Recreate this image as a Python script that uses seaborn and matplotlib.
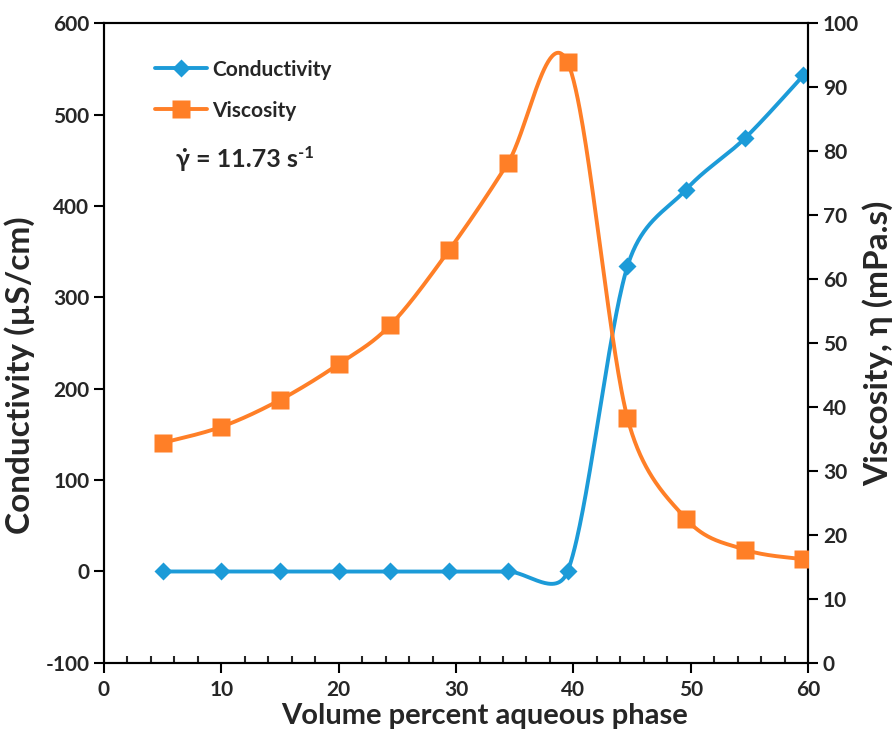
import numpy as np
import pandas as pd
import matplotlib
matplotlib.use("Agg")
import matplotlib.pyplot as plt
import seaborn as sns
from matplotlib.lines import Line2D
from matplotlib.ticker import MultipleLocator

# data
volume_pct = [5, 10, 15, 20, 24.4, 29.4, 34.4, 39.5, 44.6, 49.6, 54.6, 59.6]
conductivity = [0, 0, 0, 0, 0, 0, 0, 0, 334, 418, 474, 543]
viscosity = [34.4, 36.9, 41.1, 46.7, 52.8, 64.5, 78.1, 93.9, 38.3, 22.5, 17.7, 16.2]

blue = "#1c9bd8"
orange = "#ff7f27"

sns.set_style("ticks")
plt.rcParams["font.family"] = ["Lato", "DejaVu Sans"]
plt.rcParams["font.weight"] = "bold"
plt.rcParams["axes.unicode_minus"] = False


def excel_smooth(ax, x, y, n=60):
    # excel-like smoothed line: bezier segments, control offset = min(chord/6, seg/2) in screen space
    p = ax.transData.transform(np.column_stack([x, y]).astype(float))
    p = np.vstack([p[0], p, p[-1]])
    out = []
    for i in range(1, len(p) - 2):
        p0, p1, p2, p3 = p[i - 1], p[i], p[i + 1], p[i + 2]
        seg = np.linalg.norm(p2 - p1)
        ctrl = []
        for a, b in ((p0, p2), (p1, p3)):
            d = b - a
            L = np.linalg.norm(d)
            ctrl.append(d / L * min(L / 6, seg / 2) if L > 0 else d * 0)
        c1 = p1 + ctrl[0]
        c2 = p2 - ctrl[1]
        t = np.linspace(0, 1, n)[:, None]
        s = (1 - t) ** 3 * p1 + 3 * (1 - t) ** 2 * t * c1 + 3 * (1 - t) * t ** 2 * c2 + t ** 3 * p2
        out.append(s if i == 1 else s[1:])
    s = ax.transData.inverted().transform(np.vstack(out))
    return pd.DataFrame({"x": s[:, 0], "y": s[:, 1]})


df = pd.DataFrame({"vol": volume_pct, "cond": conductivity, "visc": viscosity})

fig = plt.figure(figsize=(8.96, 7.49), dpi=100)
ax = fig.add_axes([0.116, 0.115, 0.786, 0.854])
ax2 = ax.twinx()

ax.set_xlim(0, 60)
ax.set_ylim(-100, 600)
ax2.set_ylim(0, 100)

lw = 2.8
sns.lineplot(data=excel_smooth(ax, df["vol"], df["cond"]), x="x", y="y", sort=False,
             estimator=None, color=blue, lw=lw, ax=ax, legend=False)
ax.plot(df["vol"], df["cond"], ls="none", marker="D", ms=9.5, color=blue, mec="none", zorder=5)

sns.lineplot(data=excel_smooth(ax2, df["vol"], df["visc"]), x="x", y="y", sort=False,
             estimator=None, color=orange, lw=lw, ax=ax2, legend=False)
ax2.plot(df["vol"], df["visc"], ls="none", marker="s", ms=13.5, color=orange, mec="none", zorder=5)

ax.set_xlim(0, 60)
ax.set_ylim(-100, 600)
ax2.set_ylim(0, 100)
ax.xaxis.set_major_locator(MultipleLocator(10))
ax.xaxis.set_minor_locator(MultipleLocator(2))
ax.yaxis.set_major_locator(MultipleLocator(100))
ax2.yaxis.set_major_locator(MultipleLocator(10))

for a in (ax, ax2):
    for sp in a.spines.values():
        sp.set_linewidth(1.5)
        sp.set_color("black")
    a.tick_params(axis="both", which="major", length=7, width=1.5, labelsize=15, color="black")
ax.tick_params(axis="x", which="minor", direction="in", length=5, width=1.5)
ax.tick_params(axis="y", which="minor", left=False)
ax.tick_params(axis="x", pad=5)

ax.set_xlabel("Volume percent aqueous phase", fontsize=21, fontweight="bold")
ax.set_ylabel("Conductivity (µS/cm)", fontsize=24, fontweight="bold")
ax2.set_ylabel("Viscosity, η (mPa.s)", fontsize=24, fontweight="bold")
ax.xaxis.set_label_coords(0.54, -0.062)
ax.yaxis.set_label_coords(-0.098, 0.45)
ax2.yaxis.set_label_coords(1.077, 0.5)

handles = [
    Line2D([], [], color=blue, lw=lw, marker="D", ms=9.5, mec="none"),
    Line2D([], [], color=orange, lw=lw, marker="s", ms=13.5, mec="none"),
]
leg = ax.legend(handles, ["Conductivity", "Viscosity"], loc="upper left",
                bbox_to_anchor=(0.072, 0.943), frameon=False, fontsize=15,
                handlelength=2.5, handletextpad=0.25, labelspacing=1.0, borderpad=0,
                borderaxespad=0)
for t in leg.get_texts():
    t.set_fontweight("bold")

shear = ax.text(0.102, 0.787, "\u03b3\u0307 = 11.73 s", transform=ax.transAxes,
                fontsize=18, fontweight="bold", va="center")
ax.annotate("-1", xy=(1, 1), xycoords=shear, xytext=(0, 2), textcoords="offset points",
            fontsize=12, fontweight="bold", va="top", ha="left")

fig.savefig("out.png", dpi=100)
